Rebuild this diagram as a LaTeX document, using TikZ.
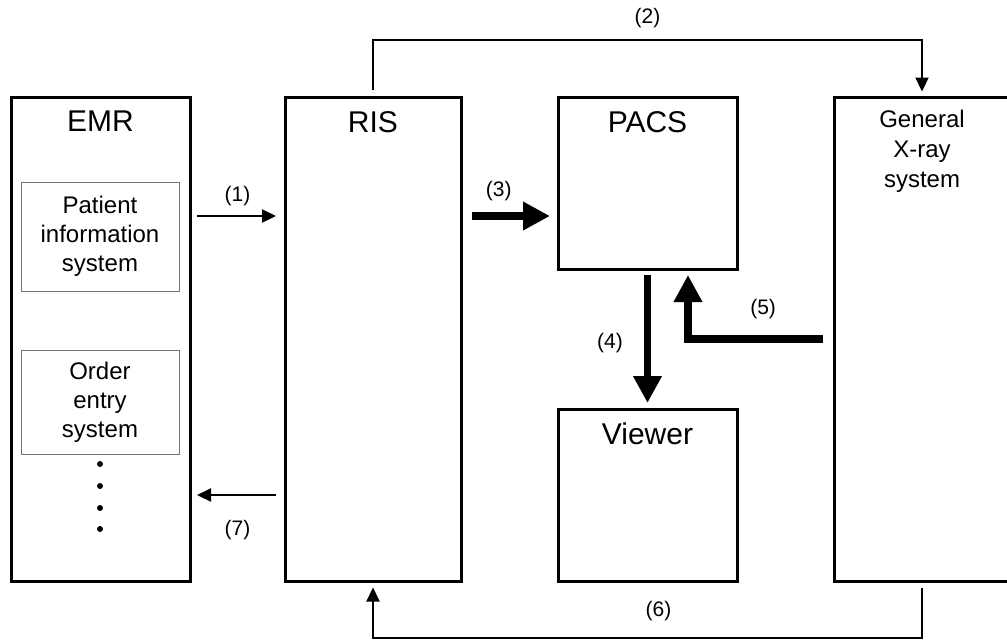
\documentclass[tikz,border=0pt]{standalone}
\usepackage{fontspec}
\setmainfont{Liberation Sans}
\usetikzlibrary{arrows.meta,positioning,calc}
\tikzset{
  sysbox/.style={draw, line width=3pt, inner sep=0pt, minimum width=176pt, minimum height=484pt},
  subbox/.style={draw=black!55, line width=0.8pt, inner sep=0pt, minimum width=158pt,
                align=center, font=\fontsize{24}{29}\selectfont},
  systitle/.style={anchor=north, inner sep=0pt, align=center, font=\fontsize{30}{35}\selectfont},
  flow/.style={-{Triangle[length=14pt,width=13pt]}, line width=2.2pt},
  bigflow/.style={-{Triangle[length=27pt,width=27pt]}, line width=7.5pt},
  flowlabel/.style={inner sep=0pt, font=\fontsize{21}{25}\selectfont},
}

\begin{document}
\begin{tikzpicture}[x=1pt, y=-1pt]

  \useasboundingbox (0,0) rectangle (1007,641);

  % the five systems
  \node[sysbox, minimum width=179pt] (emr)    at (100.5, 339) {};
  \node[sysbox]                      (ris)    at (373, 339)   {};
  \node[sysbox, minimum width=179pt, minimum height=172pt] (pacs)   at (647.5, 183) {};
  \node[sysbox, minimum width=179pt, minimum height=172pt] (viewer) at (647.5, 495) {};
  \node[sysbox]                      (xray)   at (922, 339)   {};

  \node[systitle] (emrtitle)    at ([yshift=-15.5pt]emr.north)    {EMR};
  \node[systitle] (ristitle)    at ([yshift=-15.5pt]ris.north)    {RIS};
  \node[systitle] (pacstitle)   at ([yshift=-15.5pt]pacs.north)   {PACS};
  \node[systitle] (viewertitle) at ([yshift=-15.5pt]viewer.north) {Viewer};
  \node[systitle, font=\fontsize{24}{30}\selectfont] (xraytitle) at ([yshift=-14.5pt]xray.north) {General\\X-ray\\system};

  % parts of the EMR
  \node[subbox, minimum height=109pt] (patinfo)    at (100, 236.5) {Patient\\information\\system};
  \node[subbox, minimum height=104pt] (orderentry) at (100, 402)   {Order\\entry\\system};
  \foreach \y in {464,486,508,529}
    \fill (100,\y) circle (3pt);

  \coordinate (upper) at (0, 216);
  \coordinate (lower) at (0, 495);

  \draw[flow, shorten <=5.5pt, shorten >=7.5pt] (emr.east |- upper) -- node[flowlabel, above=9pt]{(1)} (ris.west |- upper);
  \draw[flow, shorten <=6pt, shorten >=4pt] (ris.north) -- ++(0,-55.5) -| node[flowlabel, above=11pt, pos=0.25]{(2)} (xray.north);
  \draw[bigflow, shorten <=9.5pt, shorten >=6.5pt] (ris.east |- upper) -- node[flowlabel, above=11pt, pos=0.385]{(3)} (pacs.west |- upper);
  \draw[bigflow, shorten <=4.5pt, shorten >=4.5pt] (pacs.south) -- node[flowlabel, left=21pt, yshift=-4pt]{(4)} (viewer.north);
  \draw[bigflow, shorten <=9.5pt, shorten >=4.5pt] (xray.west) -| node[flowlabel, above=16pt, pos=0.24]{(5)} ([xshift=40.5pt]pacs.south);
  \draw[flow, shorten <=5pt, shorten >=5pt] (xray.south) -- ++(0,55.5) -| node[flowlabel, above=16pt, pos=0.24]{(6)} (ris.south);
  \draw[flow, shorten <=7.5pt, shorten >=5.5pt] (ris.west |- lower) -- node[flowlabel, below=24pt]{(7)} (emr.east |- lower);

\end{tikzpicture}
\end{document}
